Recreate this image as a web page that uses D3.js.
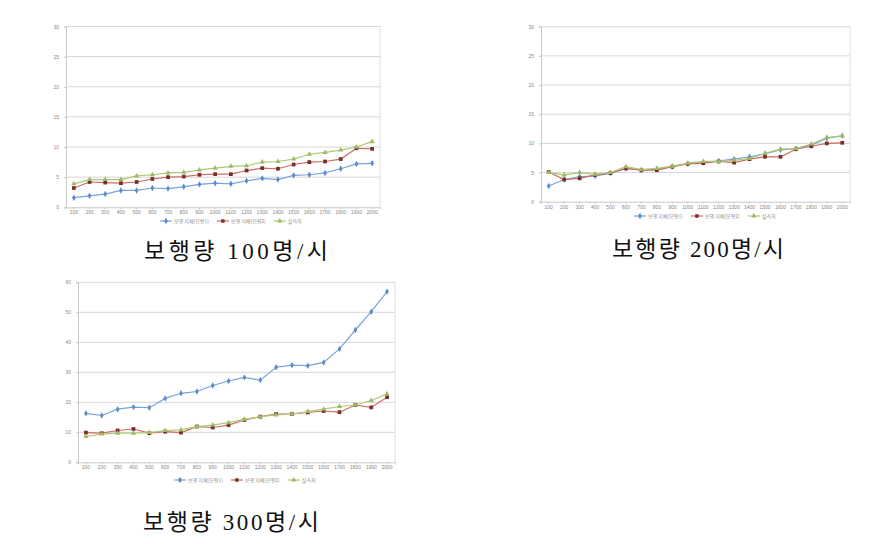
<!DOCTYPE html>
<html><head><meta charset="utf-8">
<script src="https://cdn.jsdelivr.net/npm/d3@7"></script>
<style>
body{margin:0;background:#fff;}
svg{display:block;}
</style></head>
<body>
<svg id="c" width="880" height="544"></svg>
<script>
const categories = ["100","200","300","400","500","600","700","800","900","1000","1100","1200","1300","1400","1500","1600","1700","1800","1900","2000"];
const seriesNames = ["보행 지체(모형1)","보행 지체(모형2)","실측치"];

// 보행량 100명/시
const c1Blue  = [1.6,1.9,2.2,2.8,2.8,3.2,3.1,3.4,3.8,4.0,3.9,4.4,4.8,4.6,5.3,5.4,5.7,6.4,7.2,7.3];
const c1Red   = [3.2,4.2,4.1,4.0,4.2,4.7,5.0,5.1,5.4,5.5,5.5,6.1,6.5,6.4,7.1,7.5,7.6,8.0,9.8,9.7];
const c1Green = [3.9,4.6,4.6,4.6,5.2,5.4,5.7,5.8,6.2,6.5,6.8,6.9,7.5,7.6,8.0,8.8,9.1,9.5,10.0,10.9];
const c1Ticks = [0,5,10,15,20,25,30];

// 보행량 200명/시
const c2Blue  = [2.7,3.8,4.3,4.4,4.9,5.7,5.4,5.6,6.0,6.5,6.7,7.0,7.3,7.7,8.2,8.9,9.1,9.7,10.9,11.3];
const c2Red   = [5.1,3.8,4.0,4.6,4.9,5.7,5.4,5.4,6.0,6.5,6.6,6.9,6.7,7.3,7.7,7.7,9.0,9.5,10.0,10.1];
const c2Green = [5.0,4.6,5.0,4.7,5.0,6.0,5.5,5.7,6.1,6.6,6.9,6.9,7.1,7.4,8.3,9.0,9.1,9.9,11.0,11.3];
const c2Ticks = [0,5,10,15,20,25,30];

// 보행량 300명/시
const c3Blue  = [16.3,15.6,17.7,18.4,18.2,21.3,23.0,23.6,25.6,27.1,28.3,27.4,31.7,32.4,32.2,33.3,37.8,44.1,50.2,56.9];
const c3Red   = [9.9,9.7,10.6,11.1,9.7,10.2,9.9,11.9,11.6,12.4,14.1,15.2,16.1,16.1,16.6,17.1,16.7,19.1,18.3,21.7];
const c3Green = [8.6,9.4,9.7,9.7,9.9,10.6,10.8,11.9,12.4,13.2,14.3,15.2,15.8,16.1,16.9,17.7,18.6,19.1,20.6,22.8];
const c3Ticks = [0,10,20,30,40,50,60];

const captions = ["보행량 100명/시","보행량 200명/시","보행량 300명/시"];

const colors = ["#76a5d9","#cf6a63","#aec877"];
const markerFill = ["#5b8bc8","#7a2e2a","#9fbb62"];
const symbols = [d3.symbolDiamond, d3.symbolSquare, d3.symbolTriangle];

const svg = d3.select("#c");

function drawChart(cfg){
  const g = svg.append("g");
  const x = d3.scaleBand().domain(categories).range([cfg.left, cfg.right]);
  const y = d3.scaleLinear().domain([cfg.ticks[0], cfg.ticks[cfg.ticks.length-1]]).range([cfg.bottom, cfg.top]);
  g.append("g").selectAll("line").data(cfg.ticks.slice(1)).join("line")
    .attr("x1", cfg.left).attr("x2", cfg.right)
    .attr("y1", d=>y(d)).attr("y2", d=>y(d))
    .attr("stroke","#d6d6d6").attr("stroke-width",1);
  g.append("line").attr("x1",cfg.right).attr("x2",cfg.right).attr("y1",cfg.top).attr("y2",cfg.bottom)
    .attr("stroke","#e0e0e0");
  const ya = d3.axisLeft(y).tickValues(cfg.ticks).tickSize(2).tickPadding(5);
  const yg = g.append("g").attr("transform",`translate(${cfg.left},0)`).call(ya);
  const xa = d3.axisBottom(x).tickSize(2).tickPadding(1.5);
  const xg = g.append("g").attr("transform",`translate(0,${cfg.bottom})`).call(xa);
  [yg,xg].forEach(a=>{
    a.selectAll("path,line").attr("stroke","#c8c8c8");
    a.selectAll("text").attr("fill","#888").style("font-family","Liberation Sans, Arial, sans-serif").style("font-size","5px");
  });
  const line = d3.line().x((d,i)=>x(categories[i])+x.bandwidth()/2).y(d=>y(d));
  cfg.series.forEach((s,k)=>{
    g.append("path").datum(s).attr("d",line).attr("fill","none")
      .attr("stroke",colors[k]).attr("stroke-width",1.2);
    g.append("g").selectAll("path").data(s).join("path")
      .attr("transform",(d,i)=>`translate(${x(categories[i])+x.bandwidth()/2},${y(d)})`)
      .attr("d",d3.symbol().type(symbols[k]).size(k===1?14:12))
      .attr("fill",markerFill[k]);
  });
  // legend
  const lg = g.append("g").attr("transform",`translate(${cfg.legendX},${cfg.legendY})`);
  let off = 0;
  seriesNames.forEach((n,k)=>{
    const it = lg.append("g").attr("transform",`translate(${off},0)`);
    it.append("line").attr("x1",0).attr("x2",12).attr("y1",0).attr("y2",0).attr("stroke",colors[k]).attr("stroke-width",1.2);
    it.append("path").attr("transform","translate(6,0)").attr("d",d3.symbol().type(symbols[k]).size(12)).attr("fill",markerFill[k]);
    const t = it.append("text").attr("x",14).attr("y",1.8).text(n).attr("fill","#888")
      .style("font-family","Noto Sans CJK KR, sans-serif").style("font-size","5px");
    off += 14 + t.node().getComputedTextLength() + 8;
  });
  // caption
  g.append("text").attr("x",cfg.capX).attr("y",cfg.capY).attr("text-anchor","middle")
    .attr("textLength",cfg.capW).attr("lengthAdjust","spacing")
    .text(cfg.caption).attr("fill","#111")
    .style("font-family","Liberation Serif, Noto Sans CJK KR, serif").style("font-size","23px");
}

drawChart({left:66,right:380,top:26.5,bottom:207.3,ticks:c1Ticks,series:[c1Blue,c1Red,c1Green],
  legendX:160,legendY:221,caption:captions[0],capX:236,capY:259,capW:184});
drawChart({left:541,right:850,top:26.7,bottom:201.7,ticks:c2Ticks,series:[c2Blue,c2Red,c2Green],
  legendX:634,legendY:216,caption:captions[1],capX:698,capY:257,capW:172});
drawChart({left:78,right:395,top:282.3,bottom:462.3,ticks:c3Ticks,series:[c3Blue,c3Red,c3Green],
  legendX:174,legendY:480,caption:captions[2],capX:231,capY:530,capW:176});
</script>
</body></html>
